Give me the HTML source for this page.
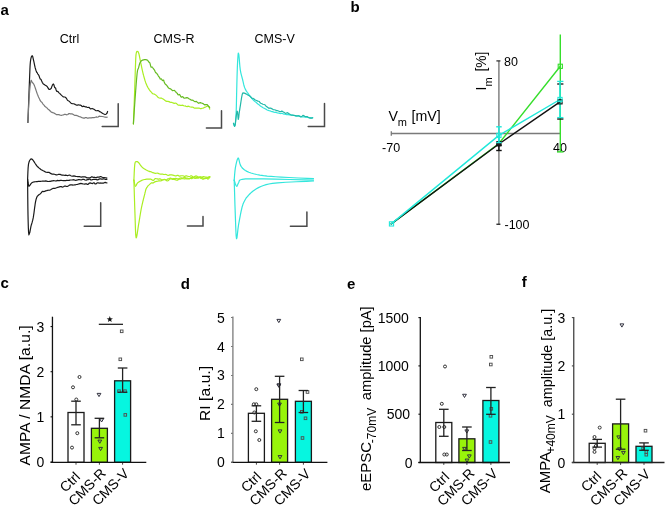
<!DOCTYPE html>
<html><head><meta charset="utf-8"><style>
html,body{margin:0;padding:0;background:#fff;}
svg{display:block;filter:blur(0.3px);}
text{font-family:"Liberation Sans", sans-serif;}
</style></head><body>
<svg width="669" height="507" viewBox="0 0 669 507">
<rect width="669" height="507" fill="#fff"/>
<text x="0.5" y="14.7" font-size="15" text-anchor="start" font-weight="bold" fill="#000">a</text>
<text x="350.5" y="11.8" font-size="15" text-anchor="start" font-weight="bold" fill="#000">b</text>
<text x="0.5" y="288.2" font-size="15" text-anchor="start" font-weight="bold" fill="#000">c</text>
<text x="180.8" y="288.6" font-size="15" text-anchor="start" font-weight="bold" fill="#000">d</text>
<text x="347" y="288.6" font-size="15" text-anchor="start" font-weight="bold" fill="#000">e</text>
<text x="521.8" y="287.2" font-size="15" text-anchor="start" font-weight="bold" fill="#000">f</text>
<text x="69.5" y="43" font-size="12.5" text-anchor="middle" font-weight="normal" fill="#000">Ctrl</text>
<text x="174" y="43" font-size="12.5" text-anchor="middle" font-weight="normal" fill="#000">CMS-R</text>
<text x="274.6" y="43" font-size="12.5" text-anchor="middle" font-weight="normal" fill="#000">CMS-V</text>
<polyline points="27.9,122.5 27.93,121.68 27.96,120.86 27.99,120.04 28.02,119.22 28.05,118.4 28.08,117.58 28.11,116.76 28.14,115.93 28.17,115.11 28.2,114.29 28.24,113.44 28.27,112.59 28.3,111.74 28.33,110.89 28.36,110.04 28.39,109.19 28.42,108.34 28.46,107.49 28.49,106.64 28.52,105.79 28.55,104.94 28.58,104.09 28.61,103.24 28.64,102.39 28.67,101.56 28.71,100.72 28.74,99.89 28.77,99.06 28.8,98.23 28.83,97.4 28.86,96.57 28.89,95.73 28.92,94.9 28.96,94.07 28.99,93.24 29.02,92.41 29.05,91.58 29.08,90.74 29.11,89.91 29.14,89.09 29.18,88.26 29.21,87.43 29.24,86.61 29.27,85.78 29.31,84.96 29.34,84.13 29.37,83.3 29.4,82.48 29.44,81.65 29.47,80.83 29.5,80 29.53,79.18 29.56,78.37 29.6,77.55 29.63,76.73 29.66,75.91 29.69,75.1 29.72,74.28 29.76,73.46 29.79,72.66 29.82,71.85 29.85,71.05 29.88,70.24 29.91,69.44 29.94,68.63 29.99,67.71 30.04,66.78 30.09,65.86 30.14,64.94 30.22,63.89 30.31,62.85 30.4,61.8 30.53,60.92 30.65,60.04 30.78,59.16 31,58.22 31.22,57.29 31.68,56.12 32.45,55.82 32.76,56.78 33.09,58.24 33.29,59.12 33.5,60 33.74,61.09 33.99,62.18 34.17,63.07 34.35,63.96 34.53,64.85 34.73,65.78 34.94,66.71 35.15,67.64 35.4,68.49 35.65,69.35 35.9,70.2 36.21,70.96 36.52,71.73 36.82,72.49 37.18,72.58 37.53,73.61 37.89,74.09 38.45,74.68 39.01,75.73 39.55,77.37 40.1,78.91 40.63,79.16 41.16,79.66 41.7,81.05 42.23,82.23 42.76,83.23 43.29,83.94 44.3,84.57 45.28,85.27 46.24,85.86 47.16,86.47 48,87.88 48.75,89.1 49.42,89.34 50.06,89.36 51.33,88.19 51.63,87.11 51.94,86.26 52.24,85.59 52.55,84.81 53.2,84.01 53.83,84.69 54.44,86.75 54.8,87.66 55.16,87.63 55.63,88.13 56.1,90.01 56.71,91.29 57.32,91.37 58.04,91.64 58.76,92.56 59.53,93.36 60.31,93.97 61.11,94.84 61.9,95.61 62.74,96.39 63.57,96.9 64.46,97.01 65.35,97.28 66.23,98.19 67.1,99.52 67.9,100.59 68.7,101.01 69.37,101.23 70.04,102.18 71.21,103.31 72.37,103.55 73.7,103.76 75.18,104.42 76.73,105.19 77.59,105.11 78.45,104.77 79.42,105.04 80.4,105.08 81.18,105.43 81.95,106.43 82.73,106.55 83.6,106.16 84.47,106.53 85.34,106.91 86.23,106.86 87.12,107.29 88.01,107.48 88.84,107.26 89.67,108.04 90.5,108.95 91.27,108.75 92.03,108.45 92.8,108.77 93.91,109.32 95.02,110.11 96.05,110.74 97.08,110.69 97.99,110.51 98.9,111.04 99.66,111.69 100.42,111.87 101.69,112.8 102.82,113.5 103.9,114.06 105,114.53 106.06,114.21 106.97,113.24 107.6,111.46" fill="none" stroke="#1a1a1a" stroke-width="1.2" stroke-linejoin="round" stroke-linecap="round"/>
<polyline points="27.9,122.5 27.94,121.62 27.98,120.75 28.02,119.87 28.06,118.99 28.11,118.12 28.15,117.24 28.19,116.39 28.23,115.55 28.26,114.7 28.3,113.85 28.34,113.01 28.38,112.16 28.42,111.31 28.46,110.47 28.5,109.62 28.54,108.81 28.58,108.01 28.62,107.2 28.66,106.4 28.7,105.59 28.74,104.79 28.78,103.98 28.82,103.17 28.86,102.37 28.9,101.56 28.95,100.74 29,99.92 29.05,99.1 29.1,98.28 29.15,97.46 29.2,96.64 29.25,95.82 29.3,95 29.37,94.2 29.43,93.4 29.5,92.61 29.56,91.81 29.63,91.01 29.69,90.21 29.79,89.22 29.9,88.23 30,87.24 30.1,86.24 30.24,85.22 30.37,84.2 30.51,83.18 30.7,82.14 30.9,81.1 31.25,80.34 31.91,81.69 32.3,82.5 33.12,83.26 33.63,83.94 34.3,85.3 34.59,86.1 34.88,86.9 35.18,87.7 35.44,88.48 35.69,89.27 35.95,90.06 36.21,90.85 36.49,91.68 36.78,92.5 37.06,93.33 37.34,94.15 37.73,95.1 38.11,96.05 38.5,97 38.88,97.74 39.27,98.47 39.65,99.21 40.25,100.66 40.84,101.46 41.48,101.92 42.11,102.64 42.81,103.79 43.5,104.63 44.03,105.12 44.57,105.99 45.1,106.49 45.69,106.87 46.27,107.46 46.86,107.84 47.45,108.45 48.03,109.16 48.62,109.57 49.41,110.22 50.2,111.03 50.86,111.69 51.52,112.17 52.69,112.63 53.81,112.91 55,113.63 56.26,114.54 57.53,114.67 58.86,114.64 60.3,115.23 61.88,115.3 62.72,115.03 63.56,114.85 64.43,114.36 65.29,114.28 66.15,114.68 67,114.8 67.84,114.48 68.67,113.7 69.51,113.52 70.35,113.81 71.19,113.87 72.03,113.9 72.86,114.23 73.7,114.83 74.54,115.28 75.38,115.32 76.21,115.44 77.05,115.63 77.89,115.95 78.73,116.38 79.56,116.73 80.4,116.9 81.22,117.21 82.04,117.72 82.84,117.93 83.64,118.18 84.47,118.14 85.31,117.54 86.2,117.5 87.1,118.06 88.11,118.1 89.12,117.97 90.21,117.95 91.3,117.79 92.39,117.55 93.48,117.54 94.49,117.55 95.5,117.2 96.42,116.9 97.33,117.23 98.2,117.03 99.06,116.31 99.87,116.22 100.68,116.46 102.2,116.48 103.69,116.73 105.12,117.21 106.34,117.29 107.2,117.08" fill="none" stroke="#787878" stroke-width="1.2" stroke-linejoin="round" stroke-linecap="round"/>
<polyline points="102.2,126.4 118.2,126.4 118.2,103.7" fill="none" stroke="#4a4a4a" stroke-width="1.5" stroke-linejoin="miter" stroke-linecap="round"/>
<polyline points="133.4,123.9 133.43,123.05 133.47,122.2 133.5,121.35 133.53,120.5 133.56,119.65 133.6,118.8 133.63,117.99 133.66,117.18 133.69,116.37 133.72,115.56 133.76,114.75 133.79,113.94 133.82,113.13 133.85,112.32 133.88,111.51 133.91,110.68 133.94,109.85 133.98,109.02 134.01,108.18 134.04,107.35 134.07,106.52 134.1,105.69 134.14,104.86 134.17,104.02 134.2,103.19 134.23,102.37 134.26,101.55 134.29,100.73 134.32,99.91 134.35,99.1 134.38,98.28 134.41,97.46 134.44,96.64 134.47,95.82 134.5,95 134.53,94.15 134.56,93.29 134.59,92.44 134.61,91.59 134.64,90.73 134.67,89.88 134.7,89.02 134.73,88.17 134.76,87.32 134.79,86.46 134.81,85.62 134.84,84.78 134.87,83.94 134.89,83.1 134.92,82.26 134.95,81.42 134.97,80.58 135,79.74 135.03,78.9 135.05,78.06 135.08,77.22 135.11,76.36 135.14,75.5 135.16,74.64 135.19,73.78 135.22,72.92 135.25,72.06 135.28,71.2 135.3,70.34 135.33,69.48 135.36,68.62 135.39,67.8 135.42,66.97 135.45,66.14 135.48,65.31 135.51,64.48 135.54,63.66 135.57,62.83 135.6,62 135.64,61 135.69,60 135.73,59.01 135.77,58.01 135.84,56.92 135.9,55.83 136.03,54.61 136.2,53.5 136.43,52.38 136.99,51.31 137.99,51.53 138.39,52.46 138.8,53.4 139.04,54.37 139.27,55.33 139.44,56.17 139.61,57.01 139.78,57.86 139.96,58.8 140.14,59.74 140.33,60.68 140.52,61.62 140.71,62.56 140.9,63.5 141.1,64.45 141.3,65.4 141.5,66.35 141.71,67.35 141.92,68.35 142.12,69.35 142.35,70.35 142.57,71.35 142.79,72.35 143.03,73.3 143.26,74.25 143.5,75.2 143.75,76.1 143.99,77 144.24,77.9 144.49,78.77 144.75,79.64 145,80.51 145.28,81.34 145.56,82.17 145.84,83 146.16,83.76 146.48,84.53 146.8,85.3 147.34,86.37 147.89,87.44 148.48,88.43 149.08,89.42 149.73,90.32 150.38,91.28 151.09,91.88 151.8,92.73 152.57,93.61 153.34,93.83 154.17,94.02 154.99,94.58 155.87,95.09 156.75,95.89 157.68,96.94 158.6,97.74 159.58,98.05 160.57,98 161.61,98.19 162.65,98.79 163.72,99.37 164.78,100.24 165.84,101.11 166.9,101.41 167.93,101.4 168.95,101.63 169.97,102.13 170.99,102.42 172.03,102.43 173.08,102.92 174.19,103.33 175.3,103.18 176.1,103.25 176.9,103.91 177.71,104.8 178.55,105.15 179.4,105.15 180.24,105.29 181.11,105.44 181.97,105.29 182.84,105.16 183.69,105.74 184.55,106.01 185.4,105.94 186.25,106.53 187.11,106.65 187.96,106.19 188.83,106.35 189.69,106.71 190.56,106.98 191.4,107.1 192.25,106.99 193.09,107.28 193.9,107.84 194.7,108.09 195.5,108 196.67,108.13 197.83,108.11 198.97,108.03 200.11,108.55 201.14,108.57 202.18,108.27 203.04,108.12 203.9,107.69 205.17,107.11 206.09,106.68 206.81,106.21 207.5,105.96 208.16,106.09 208.82,106.23 209.34,107.58 209.7,109.15" fill="none" stroke="#aaee22" stroke-width="1.2" stroke-linejoin="round" stroke-linecap="round"/>
<polyline points="133.4,123.9 133.46,123.05 133.51,122.21 133.57,121.36 133.62,120.51 133.68,119.67 133.73,118.8 133.79,117.93 133.84,117.07 133.9,116.2 133.96,115.34 134.01,114.47 134.07,113.61 134.13,112.75 134.18,111.88 134.24,111.02 134.3,110.16 134.36,109.3 134.41,108.44 134.47,107.58 134.53,106.72 134.59,105.88 134.65,105.04 134.7,104.2 134.76,103.36 134.82,102.52 134.88,101.68 134.94,100.84 135,100 135.06,99.13 135.13,98.27 135.19,97.4 135.25,96.53 135.32,95.67 135.38,94.8 135.44,93.93 135.51,93.07 135.57,92.24 135.63,91.41 135.69,90.58 135.75,89.75 135.82,88.92 135.88,88.09 135.94,87.26 136,86.43 136.06,85.6 136.13,84.74 136.2,83.88 136.27,83.02 136.34,82.15 136.41,81.29 136.48,80.43 136.54,79.57 136.61,78.71 136.69,77.84 136.78,76.97 136.86,76.1 136.94,75.24 137.02,74.37 137.1,73.5 137.23,72.55 137.36,71.6 137.49,70.65 137.83,69.43 138.5,68 138.86,66.58 139.23,65.11 139.63,63.74 140.1,62.6 140.62,61.71 141.19,61.01 141.83,60.48 142.6,60.1 143.53,59.81 144.59,59.63 145.71,59.69 146.8,59.89 147.85,60.44 148.38,61.43 148.9,62.12 149.43,62.37 149.95,63.14 150.48,65.34 151,67.18 151.5,67.05 151.99,66.97 152.47,67.55 152.94,68.02 153.46,68.74 153.97,69.33 154.59,70.3 155.2,71.82 155.7,72.67 156.2,72.88 156.7,73.33 157.26,74.09 157.83,74.89 158.39,76.04 158.98,76.75 159.58,77.6 160.17,78.9 160.74,79.06 161.32,78.75 161.9,79.72 162.46,80.61 163.02,79.99 163.58,80 164.13,81.72 164.69,83.27 165.25,84.06 166.09,84.81 166.93,85.58 167.76,86.81 168.6,88.08 169.42,88.58 170.24,88.69 171.04,89.22 171.84,90.12 172.67,90.67 173.51,90.49 174.4,90.29 175.3,91.42 176.29,92.51 177.28,93.39 177.98,94.59 178.69,94.83 179.39,94.47 180.12,95.26 180.84,96.8 181.56,97.23 182.27,96.68 182.99,96.77 183.7,97.82 184.75,98.21 185.8,97.94 186.85,97.67 187.9,97.89 188.95,98.72 190,99.36 191.05,100.05 192.1,100.18 193.17,100.39 194.24,101.37 195.32,101.59 196.41,101.42 197.46,102.33 198.52,103.27 199.51,102.91 200.5,102.62 201.45,103.05 202.39,103.36 203.31,103.83 204.22,104.59 205.04,104.9 205.86,104.5 207.2,104.63 208.18,105.9 208.87,106.77 209.7,107.42" fill="none" stroke="#66bb22" stroke-width="1.2" stroke-linejoin="round" stroke-linecap="round"/>
<polyline points="206.4,128 221.5,128 221.5,110.8" fill="none" stroke="#4a4a4a" stroke-width="1.5" stroke-linejoin="miter" stroke-linecap="round"/>
<polyline points="233.5,123.3 233.76,124.08 234.14,125.26 234.55,126.19 235.17,124.97 235.29,123.94 235.41,122.91 235.48,122.08 235.55,121.26 235.61,120.44 235.68,119.62 235.74,118.81 235.8,118 235.88,116.85 235.96,115.7 236,114.9 236.04,114.1 236.09,113.3 236.12,112.45 236.16,111.6 236.2,110.75 236.23,109.84 236.27,108.92 236.3,108 236.33,107.04 236.36,106.08 236.38,105.12 236.41,104.12 236.43,103.12 236.45,102.12 236.47,101.3 236.48,100.47 236.5,99.64 236.52,98.81 236.54,97.86 236.56,96.91 236.58,95.95 236.6,95 236.62,94.07 236.64,93.13 236.67,92.2 236.69,91.26 236.71,90.33 236.73,89.44 236.75,88.55 236.77,87.66 236.8,86.78 236.82,85.89 236.84,85 236.86,84.11 236.88,83.22 236.9,82.34 236.93,81.45 236.95,80.56 236.97,79.67 237,78.74 237.02,77.8 237.05,76.87 237.07,75.93 237.1,75 237.13,74.04 237.16,73.08 237.19,72.12 237.22,71.16 237.25,70.33 237.28,69.49 237.31,68.65 237.34,67.81 237.38,66.81 237.42,65.81 237.46,64.8 237.51,63.87 237.55,62.93 237.6,62 237.65,61.06 237.71,60.12 237.76,59.19 237.82,58.29 237.88,57.4 237.94,56.5 238.03,55.41 238.12,54.31 238.3,53 238.78,54.2 238.89,55.1 239,56 239.09,56.94 239.17,57.88 239.26,58.82 239.33,59.76 239.4,60.69 239.47,61.63 239.54,62.56 239.63,63.55 239.71,64.54 239.8,65.53 239.88,66.52 239.99,67.39 240.09,68.26 240.2,69.13 240.3,70 240.48,70.94 240.65,71.89 240.83,72.83 241.04,73.68 241.25,74.54 241.46,75.39 241.67,76.17 241.89,76.96 242.1,77.75 242.4,78.87 242.7,80 242.95,81.07 243.19,82.15 243.41,83.15 243.63,84.16 243.87,85.1 244.1,86.04 244.4,86.92 244.7,87.8 245.06,88.6 245.43,89.4 245.84,90.12 246.25,90.84 246.71,91.54 247.17,92.24 247.69,92.97 248.2,93.7 248.74,94.46 249.28,95.22 249.86,95.98 250.43,96.65 251.1,97.47 251.76,98.43 252.58,99.22 253.4,100.05 254.09,100.82 254.78,101.42 255.47,101.85 256.27,102.54 257.07,103.34 257.88,104 258.71,104.51 259.55,105.18 260.39,106.03 261.2,106.53 262,106.97 262.8,107.52 263.54,107.93 264.27,108.29 265.01,108.65 266.08,109.32 267.16,109.97 268.24,110.34 269.32,110.71 270.08,110.92 270.84,111.23 271.6,111.54 272.39,111.61 273.17,111.87 273.96,112.24 274.76,112.28 275.56,112.22 276.36,112.53 277.21,112.94 278.06,113.02 278.91,113.21 279.84,113.52 280.77,113.53 281.7,113.37 282.5,113.49 283.3,113.85 284.1,114.06 284.9,114.26 285.77,114.49 286.65,114.54 287.52,114.41 288.4,114.58 289.28,114.96 290.15,115 291.03,114.84 291.9,114.99 292.7,115.3 293.5,115.34 294.3,115.47 295.1,115.84 296.04,116.07 296.98,116.07 297.92,115.8 298.78,115.66 299.65,116 300.52,116.34 301.32,116.56 302.13,116.84 302.94,116.86 304.07,116.87 305.2,117.1 306.32,117.22 307.43,117.37 308.51,117.51 309.58,117.54 310.5,117.86 311.41,117.94 312.7,117.6" fill="none" stroke="#33e6dc" stroke-width="1.2" stroke-linejoin="round" stroke-linecap="round"/>
<polyline points="233.5,123.3 233.76,124.13 234.13,125.38 234.54,126.36 235.19,125.09 235.32,123.98 235.46,122.86 235.54,122.01 235.63,121.16 235.72,120.31 235.86,119.15 236,118 236.16,116.84 236.32,115.68 236.43,114.84 236.54,114 236.66,113.16 236.82,112.18 236.99,111.19 237.57,111.95 237.66,112.95 237.74,113.94 237.82,114.94 237.9,115.94 237.98,116.95 238.06,117.95 238.3,119.5 238.52,118.4 238.74,117.29 238.85,116.18 238.96,115.07 239.08,114.04 239.2,113 239.33,112.11 239.47,111.22 239.61,110.3 239.75,109.39 239.9,108.41 240.06,107.44 240.23,106.37 240.4,105.3 240.53,104.44 240.66,103.58 240.8,102.72 240.94,101.74 241.09,100.77 241.24,99.8 241.39,98.89 241.54,97.97 241.68,97.06 241.89,96.03 242.1,95 242.4,93.8 242.95,92.94 244.38,93.1 245.49,93.62 246.68,94.28 247.8,94.9 248.8,95.43 249.78,95.98 250.76,97.05 251.8,98.07 252.91,98.33 254.06,98.95 255.25,99.96 256.5,100.45 257.87,101.08 258.61,101.24 259.34,101.58 260.06,102.72 260.77,103.27 262,103.75 262.85,104.25 264.11,104.49 265.2,105 266.04,106.15 266.87,106.72 267.9,107.56 268.92,108.38 269.66,108.01 270.4,108.18 271.14,108.38 272.22,108.86 273.3,109.77 274.36,109.75 275.42,110.04 276.5,110.61 277.59,110.71 278.65,111.01 279.71,111.71 280.71,111.67 281.7,111.1 282.56,111.41 283.41,112.02 284.18,112.36 284.94,112.99 285.73,113.38 286.53,113.01 287.46,112.69 288.4,113.27 289.49,114.11 290.59,114.8 291.39,115.25 292.18,115.1 292.98,115.16 293.86,115.46 294.73,115.46 295.61,115.7 296.57,115.94 297.54,115.87 298.5,115.84 299.4,116.27 300.3,116.85 301.2,116.87 302.09,116.14 302.92,115.38 303.75,115.61 304.58,116.21 305.4,116.58 306.23,116.63 307.19,116.59 308.14,117.15 309.1,117.94 310.05,118.08 310.93,117.95 311.82,118.06 312.7,117.85" fill="none" stroke="#22b8a8" stroke-width="1.2" stroke-linejoin="round" stroke-linecap="round"/>
<polyline points="308.2,126.4 324.5,126.4 324.5,103.4" fill="none" stroke="#4a4a4a" stroke-width="1.5" stroke-linejoin="miter" stroke-linecap="round"/>
<polyline points="27.6,179.3 27.64,178.32 27.68,177.34 27.72,176.36 27.76,175.5 27.79,174.65 27.83,173.79 27.86,172.94 27.89,172.08 27.94,171.19 27.99,170.3 28.04,169.42 28.09,168.53 28.14,167.64 28.23,166.78 28.32,165.92 28.41,165.06 28.5,164.2 28.76,163.11 29.02,162.02 29.34,161.26 29.66,160.5 30.35,159.5 31,158.9 32.03,159.03 32.58,159.69 33.3,160.6 34.19,161.87 34.69,162.69 35.2,163.51 35.78,164.37 36.36,165.24 37.03,166.02 37.7,166.8 38.45,167.47 39.2,168.14 40.03,168.77 40.86,169.41 41.78,169.99 42.71,170.57 43.75,171.08 44.8,171.6 45.58,172.05 46.36,172.22 47.14,172.38 48,172.27 48.86,172.32 49.71,172.87 50.64,173.37 51.57,173.86 52.5,174.17 53.5,174.09 54.5,174.26 55.5,174.72 56.3,174.82 57.1,174.78 57.9,174.56 58.7,174.25 59.55,174.29 60.4,174.46 61.25,174.91 62.11,175.14 63.01,175.01 63.92,175.23 64.83,175.28 65.74,175.2 66.7,175.41 67.67,175.59 68.63,175.25 69.6,175.07 70.46,175.57 71.32,175.98 72.19,176.21 73.05,176.15 73.91,175.93 74.85,176.17 75.78,176.42 76.72,176.49 77.66,176.65 78.59,176.72 79.52,176.66 80.45,176.91 81.37,177.09 82.3,176.91 83.23,176.87 84.06,176.8 84.9,176.81 85.73,177.13 86.57,177.64 87.4,177.92 88.31,177.8 89.22,177.84 90.14,177.84 91.05,177.23 91.88,176.71 92.72,177.13 93.55,177.39 94.38,177.21 95.38,177.52 96.38,177.64 97.37,177.13 98.25,177.1 99.12,177.17 100,176.68 101.14,176.67 102.29,177.21 103.26,177.59 104.24,177.66 105.79,177.74 106.9,178.07" fill="none" stroke="#1a1a1a" stroke-width="1.2" stroke-linejoin="round" stroke-linecap="round"/>
<polyline points="27.6,179.3 27.81,180.78 27.97,181.87 28.12,182.96 28.3,184.01 28.49,185.06 28.9,186.3 29.83,185.55 30.38,184.52 31,183.7 31.96,182.69 32.73,182.27 34.2,181.9 35.26,181.76 36.32,181.61 37.19,181.54 38.07,181.47 38.94,181.39 39.77,181.35 40.61,181.3 41.45,181.25 42.29,181.2 43.15,181.16 44.01,181.12 44.87,181.08 45.74,180.93 46.6,181.07 47.51,181.4 48.43,181.51 49.34,181.43 50.26,181.39 51.17,181.12 52.09,180.89 52.9,180.87 53.71,180.71 54.52,180.74 55.33,180.96 56.14,181.01 56.95,180.63 57.76,180.41 58.57,180.7 59.46,180.68 60.36,180.34 61.25,180.3 62.14,180.51 63.04,180.63 63.93,180.56 64.82,180.58 65.72,180.64 66.55,180.46 67.38,180.36 68.21,180.47 69.04,180.42 69.87,180.12 70.71,179.99 71.54,179.98 72.37,179.86 73.2,179.72 74.07,179.8 74.94,180.27 75.81,180.36 76.69,180.05 77.56,179.92 78.43,179.68 79.3,179.57 80.17,179.76 81.04,179.94 81.92,179.77 82.73,179.29 83.55,179.3 84.36,179.65 85.18,180 86,180.23 86.81,179.87 87.63,179.69 88.45,179.61 89.26,178.98 90.08,179.24 90.9,180.01 91.71,179.83 92.53,179.54 93.34,179.46 94.16,179.33 94.97,179.27 95.79,179.33 96.6,179.7 97.42,179.89 98.23,179.64 99.05,179.11 99.86,178.83 100.68,178.96 101.57,179.14 102.46,179.17 103.34,178.93 104.23,178.96 105.12,179.31 106.01,179.45 106.9,179.38" fill="none" stroke="#1a1a1a" stroke-width="1.2" stroke-linejoin="round" stroke-linecap="round"/>
<polyline points="27.6,179.3 27.61,180.15 27.62,181 27.62,181.85 27.63,182.69 27.64,183.54 27.65,184.39 27.65,185.24 27.66,186.09 27.67,186.91 27.67,187.73 27.68,188.54 27.69,189.36 27.69,190.18 27.7,191 27.71,191.82 27.72,192.64 27.72,193.46 27.73,194.28 27.74,195.09 27.74,195.91 27.75,196.72 27.76,197.52 27.77,198.32 27.78,199.13 27.79,199.93 27.8,200.73 27.8,201.54 27.81,202.34 27.82,203.14 27.83,203.95 27.84,204.75 27.85,205.55 27.86,206.36 27.87,207.22 27.88,208.09 27.9,208.95 27.91,209.81 27.93,210.68 27.94,211.54 27.96,212.41 27.97,213.27 27.99,214.14 28,215 28.02,215.84 28.04,216.68 28.06,217.53 28.08,218.37 28.1,219.21 28.12,220.05 28.14,220.89 28.16,221.73 28.19,222.58 28.21,223.43 28.24,224.28 28.27,225.13 28.29,225.97 28.32,226.82 28.34,227.67 28.39,228.58 28.44,229.49 28.48,230.4 28.53,231.31 28.58,232.22 28.69,233.08 28.79,233.94 28.9,234.8 29.22,233.96 29.54,233.13 29.86,232.29 30.01,231.47 30.15,230.66 30.29,229.84 30.43,229.03 30.62,228.09 30.81,227.14 31,226.2 31.28,225.21 31.55,224.22 31.83,223.3 32.11,222.38 32.4,221.31 32.69,220.24 32.89,219.29 33.1,218.35 33.3,217.4 33.43,216.58 33.55,215.76 33.68,214.93 33.8,214.11 33.93,213.29 34.04,212.46 34.14,211.62 34.25,210.79 34.36,209.95 34.47,209.12 34.57,208.28 34.69,207.46 34.8,206.65 34.92,205.83 35.03,205.02 35.15,204.2 35.26,203.38 35.44,202.44 35.63,201.49 35.81,200.55 36,199.6 36.37,198.48 36.73,197.35 37.47,196.06 38.35,195.21 39.5,194.3 40.24,193.91 40.98,193.19 41.85,191.97 42.71,191.26 43.66,191.64 44.61,191.43 45.61,190.9 46.6,190.69 47.59,190.35 48.58,190.22 49.59,190.24 50.61,189.75 51.74,189.02 52.87,188.45 53.74,188.42 54.62,188.45 55.5,188.21 56.52,187.81 57.55,187.44 58.57,187.2 59.43,186.87 60.28,186.6 61.14,186.59 61.99,186.86 62.92,187.05 63.84,186.56 64.77,186.01 65.69,186.17 66.67,186.47 67.65,186.33 68.62,185.75 69.6,185.08 70.43,184.87 71.26,184.86 72.09,184.94 72.92,185.09 73.75,184.98 74.63,184.87 75.51,184.81 76.4,184.49 77.28,184.39 78.16,184.26 79.08,183.82 79.99,183.56 80.91,183.43 81.83,183.54 82.74,183.84 83.67,184.01 84.61,184.1 85.54,183.83 86.47,183.76 87.4,184.4 88.27,184.23 89.14,183.24 90.01,182.94 90.88,183.16 91.74,183.45 92.61,183.54 93.42,182.88 94.23,182.77 95.03,183.84 95.84,184.02 96.65,183.31 97.46,182.84 98.26,182.95 99.11,183.09 99.96,182.97 100.81,183.05 101.66,183.17 102.51,183.19 103.36,183.11 104.24,182.74 105.13,182.37 106.01,182.67 106.9,182.8" fill="none" stroke="#1a1a1a" stroke-width="1.2" stroke-linejoin="round" stroke-linecap="round"/>
<polyline points="84.2,226.2 100.7,226.2 100.7,202.8" fill="none" stroke="#4a4a4a" stroke-width="1.5" stroke-linejoin="miter" stroke-linecap="round"/>
<polyline points="133.9,180.1 133.95,179.04 134,177.99 134.04,176.93 134.08,176.01 134.12,175.09 134.16,174.16 134.2,173.24 134.24,172.32 134.29,171.38 134.35,170.44 134.4,169.5 134.45,168.56 134.5,167.62 134.57,166.76 134.65,165.91 134.72,165.05 134.8,164.2 134.98,163.35 135.15,162.5 135.56,161.77 136.5,161.5 137.51,161.68 138.16,162.24 138.8,162.8 139.59,163.8 140.45,165.09 140.96,165.77 141.46,166.46 142.08,167.08 142.7,167.7 143.43,168.24 144.17,168.78 145,169.3 145.83,169.81 146.76,170.29 147.7,170.76 148.75,171.18 149.8,171.6 150.93,171.64 152.06,172.37 152.87,172.58 153.68,172.82 154.49,173.2 155.41,173.36 156.33,173.23 157.25,173.06 158.06,173.22 158.87,173.65 159.69,173.99 160.5,174.14 161.49,174.08 162.48,174.01 163.47,174.3 164.45,174.53 165.36,174.34 166.26,174.47 167.16,175.03 168.07,175.32 168.97,175.17 169.91,174.91 170.85,174.82 171.79,174.91 172.73,175.05 173.67,175.35 174.58,175.64 175.48,175.82 176.39,175.79 177.29,175.39 178.2,175.44 179.06,176.06 179.92,176.11 180.79,175.79 181.65,175.73 182.51,175.76 183.36,175.95 184.22,176.28 185.07,176.29 185.93,175.92 186.78,175.89 187.62,176.22 188.45,176.47 189.29,176.51 190.13,176.21 190.96,175.82 191.77,175.87 192.58,176.6 193.38,177.03 194.19,176.79 195,176.34 195.84,175.95 196.68,176.03 197.51,176.63 198.35,177.21 199.19,177.11 200.04,176.78 200.89,176.89 201.75,177.06 202.6,176.91 203.45,176.64 204.38,176.78 205.32,177.17 206.25,177.16 207.19,177.23 208.06,177.54 208.93,177.29 209.8,176.89" fill="none" stroke="#aaee22" stroke-width="1.2" stroke-linejoin="round" stroke-linecap="round"/>
<polyline points="133.9,180.1 134.16,181.43 134.35,182.4 134.54,183.38 134.75,184.31 134.97,185.24 135.4,186.3 136.25,185.35 136.71,184.26 137.2,183.4 138.08,182.46 138.79,182.03 139.5,181.6 140.57,181.02 141.82,180.36 142.64,180.06 143.45,179.75 144.58,179.53 145.7,179.3 146.71,179.22 147.73,179.15 148.74,179.07 149.66,179.05 150.58,179.09 151.5,179.57 152.42,180.15 153.22,180.51 154.03,179.9 154.83,178.75 155.63,178.5 156.44,178.74 157.25,178.82 158.06,179.07 158.87,179.13 159.69,178.75 160.5,179.05 161.44,179.83 162.38,180.02 163.32,179.71 164.26,179.27 165.19,179.54 166.11,179.95 167.04,179.43 167.96,178.76 168.81,178.58 169.66,178.22 170.51,178.01 171.36,178.46 172.21,178.72 173.11,178.53 174.01,178.55 174.9,178.58 175.8,178.4 176.7,178.62 177.6,178.93 178.46,178.91 179.32,178.52 180.18,177.99 181.04,177.91 181.9,178.2 182.76,178.11 183.62,177.71 184.48,177.6 185.34,177.71 186.2,178 187.06,178.07 187.91,178.22 188.77,178.81 189.63,178.73 190.48,178.01 191.34,177.49 192.2,177.21 193.05,177.37 193.91,177.77 194.77,178.03 195.58,178.01 196.39,177.68 197.19,177.37 198,177.26 198.81,177.31 199.62,177.26 200.43,177.2 201.24,177.76 202.04,178.73 202.85,179.26 203.66,179.06 204.54,178.64 205.41,178.53 206.29,178.39 207.17,177.96 208.05,177.33 208.92,176.77 209.8,176.84" fill="none" stroke="#aaee22" stroke-width="1.2" stroke-linejoin="round" stroke-linecap="round"/>
<polyline points="133.9,180.1 133.92,180.92 133.95,181.74 133.97,182.56 134,183.38 134.02,184.2 134.05,185.02 134.07,185.84 134.1,186.65 134.12,187.52 134.15,188.38 134.18,189.24 134.2,190.1 134.23,190.96 134.25,191.82 134.28,192.68 134.3,193.54 134.33,194.4 134.36,195.26 134.38,196.12 134.41,196.97 134.43,197.82 134.46,198.67 134.49,199.52 134.51,200.37 134.54,201.22 134.57,202.06 134.59,202.91 134.62,203.76 134.65,204.61 134.67,205.46 134.7,206.31 134.73,207.18 134.76,208.05 134.79,208.92 134.82,209.78 134.85,210.65 134.88,211.52 134.91,212.39 134.94,213.26 134.97,214.13 135,215 135.03,215.82 135.05,216.64 135.08,217.47 135.11,218.29 135.13,219.11 135.16,219.93 135.19,220.75 135.22,221.58 135.24,222.4 135.27,223.27 135.3,224.15 135.32,225.03 135.35,225.9 135.38,226.78 135.41,227.66 135.43,228.54 135.46,229.41 135.51,230.33 135.55,231.25 135.59,232.17 135.64,233.09 135.68,234 135.73,234.92 135.85,235.88 135.98,236.84 136.1,237.8 136.62,237.08 136.78,236.2 136.94,235.33 137.09,234.45 137.25,233.58 137.39,232.63 137.52,231.69 137.66,230.75 137.79,229.8 137.93,228.86 138.06,227.99 138.2,227.12 138.33,226.24 138.47,225.37 138.6,224.5 138.77,223.52 138.93,222.54 139.1,221.56 139.26,220.58 139.4,219.75 139.53,218.91 139.67,218.07 139.8,217.23 139.94,216.39 140.07,215.56 140.21,214.73 140.35,213.9 140.48,213.08 140.62,212.25 140.79,211.31 140.96,210.37 141.13,209.44 141.3,208.5 141.47,207.69 141.64,206.87 141.81,206.06 141.98,205.25 142.2,204.27 142.43,203.29 142.66,202.31 142.88,201.4 143.11,200.49 143.33,199.59 143.55,198.72 143.78,197.86 144,197 144.21,196.16 144.42,195.32 144.63,194.49 144.84,193.69 145.04,192.69 145.24,192.01 145.56,190.67 145.88,189.46 146.24,188.56 146.6,187.89 146.98,187.44 147.37,186.74 148.17,185.65 149.09,184.89 150.2,183.88 151.55,182.75 152.31,182.88 153.08,183.07 153.9,182.41 154.73,181.88 155.56,181.62 156.4,181.42 157.66,181.26 158.68,180.89 159.51,180.72 160.34,180.97 161.39,180.69 162.45,179.8 163.5,179.56 164.4,179.54 165.31,179.48 166.21,180.3 167.11,180.96 168.01,180.74 168.92,179.96 169.8,179.01 170.68,178.74 171.56,179.06 172.44,179.48 173.32,179.48 174.2,179.35 175.08,179.6 175.96,179.96 176.78,180.26 177.61,180.2 178.43,179.42 179.26,178.84 180.09,179.2 180.91,178.94 181.74,178.36 182.57,178.58 183.39,178.74 184.22,178.89 185.04,178.84 185.87,178.48 186.7,178.89 187.52,179 188.35,178.65 189.17,178.74 190,178.36 190.84,178.23 191.68,178.66 192.52,178.22 193.36,177.51 194.2,177.86 195.04,178.35 195.89,178.11 196.7,177.97 197.51,178.15 198.32,178.09 199.13,177.75 199.94,177.77 200.75,178.4 201.56,178.22 202.36,177.45 203.17,177.98 203.98,178.41 204.78,178.23 205.59,178.18 206.4,177.94 207.25,178.45 208.1,179.17 208.95,178.42 209.8,176.71" fill="none" stroke="#aaee22" stroke-width="1.2" stroke-linejoin="round" stroke-linecap="round"/>
<polyline points="187.4,225.9 203,225.9 203,216.5" fill="none" stroke="#4a4a4a" stroke-width="1.5" stroke-linejoin="miter" stroke-linecap="round"/>
<polyline points="234.2,180.1 234.38,177.81 234.63,174.51 234.97,170.9 235.4,167.7 235.98,164.69 236.68,161.63 237.42,159.18 238.1,158 238.67,158.66 239.19,160.67 239.74,163.12 240.4,165.1 241.13,166.41 241.91,167.52 242.83,168.53 244,169.5 245.38,170.46 246.94,171.36 248.78,172.2 251,173 253.62,173.76 256.58,174.48 259.88,175.14 263.5,175.7 267.22,176.14 271.11,176.47 275.63,176.77 281.2,177.1 289.01,177.52 298.46,177.99 307.35,178.41 313.5,178.7" fill="none" stroke="#33e6dc" stroke-width="1.2" stroke-linejoin="round" stroke-linecap="round"/>
<polyline points="234.2,180.1 234.62,181.44 235.22,183.42 235.89,185.29 236.5,186.3 237,186.11 237.47,185.16 237.97,183.9 238.6,182.8 238.98,181.85 239.2,180.86 240.02,179.96 242.2,179.3 245.61,178.94 249.95,178.81 255.74,178.81 263.5,178.9 275.15,179.12 289.83,179.48 303.84,179.85 313.5,180.1" fill="none" stroke="#33e6dc" stroke-width="1.2" stroke-linejoin="round" stroke-linecap="round"/>
<polyline points="234.2,180.1 234.4,186.63 234.68,196.07 234.99,206.24 235.3,215 235.57,222.6 235.84,229.92 236.13,235.7 236.5,238.7 236.93,237.9 237.4,234.19 237.95,229.19 238.6,224.5 239.41,220.05 240.34,215.16 241.3,210.49 242.2,206.7 243.03,204.06 243.84,202.17 244.6,200.76 245.3,199.5 245.91,198.45 246.44,197.72 246.95,197.13 247.5,196.5 248.05,195.83 248.6,195.21 249.22,194.55 250,193.8 250.9,192.92 251.9,191.96 253.1,190.94 254.6,189.9 256.4,188.8 258.46,187.62 260.81,186.49 263.5,185.5 266.15,184.68 268.86,183.99 272.42,183.37 277.6,182.8 285.88,182.24 296.43,181.73 306.54,181.3 313.5,181" fill="none" stroke="#33e6dc" stroke-width="1.2" stroke-linejoin="round" stroke-linecap="round"/>
<polyline points="290.4,226.2 306.9,226.2 306.9,212.1" fill="none" stroke="#4a4a4a" stroke-width="1.5" stroke-linejoin="miter" stroke-linecap="round"/>
<line x1="391.3" y1="133.5" x2="560.39" y2="133.5" stroke="#7a7a7a" stroke-width="1.4" stroke-linecap="butt"/>
<line x1="391.3" y1="131.3" x2="391.3" y2="135.7" stroke="#7a7a7a" stroke-width="1.3" stroke-linecap="butt"/>
<line x1="498.9" y1="60.9" x2="498.9" y2="224.25" stroke="#7a7a7a" stroke-width="1.4" stroke-linecap="butt"/>
<line x1="496.4" y1="60.9" x2="500.4" y2="60.9" stroke="#333" stroke-width="1.3" stroke-linecap="butt"/>
<line x1="496.4" y1="224.25" x2="500.4" y2="224.25" stroke="#222" stroke-width="1.3" stroke-linecap="butt"/>
<text x="391.1" y="152" font-size="12.5" text-anchor="middle" font-weight="normal" fill="#000">-70</text>
<text x="560" y="151.6" font-size="12.5" text-anchor="middle" font-weight="normal" fill="#000">40</text>
<text x="504" y="66.2" font-size="12.5" text-anchor="start" font-weight="normal" fill="#000">80</text>
<text x="504.5" y="229.3" font-size="12.5" text-anchor="start" font-weight="normal" fill="#000">-100</text>
<text x="388.4" y="120.6" font-size="14.2" text-anchor="start" font-weight="normal" fill="#000">V</text>
<text x="397.8" y="126.3" font-size="11" text-anchor="start" font-weight="normal" fill="#000">m</text>
<text x="411.6" y="120.6" font-size="14.2" text-anchor="start" font-weight="normal" fill="#000">[mV]</text>
<text transform="translate(485.7,90.6) rotate(-90)" font-size="13.8">I</text>
<text transform="translate(491.8,86.6) rotate(-90)" font-size="11">m</text>
<text transform="translate(485.9,71.6) rotate(-90)" font-size="13.8">[%]</text>
<line x1="560.3" y1="34.4" x2="560.3" y2="151.9" stroke="#36de2c" stroke-width="1.4" stroke-linecap="butt"/>
<line x1="557" y1="151.9" x2="563.6" y2="151.9" stroke="#36de2c" stroke-width="1.4" stroke-linecap="butt"/>
<line x1="557.2" y1="84" x2="563.4" y2="84" stroke="#111" stroke-width="1.3" stroke-linecap="butt"/>
<line x1="557.2" y1="119" x2="563.4" y2="119" stroke="#111" stroke-width="1.4" stroke-linecap="butt"/>
<line x1="560" y1="81.4" x2="560" y2="117.6" stroke="#20e8da" stroke-width="1.6" stroke-linecap="butt"/>
<line x1="557.2" y1="81.4" x2="563.4" y2="81.4" stroke="#20e8da" stroke-width="1.3" stroke-linecap="butt"/>
<line x1="557.2" y1="117.6" x2="563.4" y2="117.6" stroke="#20e8da" stroke-width="1.3" stroke-linecap="butt"/>
<line x1="498.9" y1="126.8" x2="498.9" y2="143.5" stroke="#20e8da" stroke-width="1.6" stroke-linecap="butt"/>
<line x1="496.2" y1="126.8" x2="501.7" y2="126.8" stroke="#20e8da" stroke-width="1.4" stroke-linecap="butt"/>
<line x1="498.9" y1="143.5" x2="498.9" y2="150.5" stroke="#111" stroke-width="1.4" stroke-linecap="butt"/>
<line x1="496.2" y1="145.2" x2="501.7" y2="145.2" stroke="#111" stroke-width="1.4" stroke-linecap="butt"/>
<line x1="496.2" y1="150.5" x2="501.7" y2="150.5" stroke="#111" stroke-width="1.4" stroke-linecap="butt"/>
<polyline points="391.25,223.9 498.9,143.5 560.3,66.3" fill="none" stroke="#36de2c" stroke-width="1.4" stroke-linejoin="round" stroke-linecap="round"/>
<polyline points="391.25,223.9 498.9,144 560,101.8" fill="none" stroke="#111" stroke-width="1.4" stroke-linejoin="round" stroke-linecap="round"/>
<polyline points="391.25,223.9 498.9,135.4 560,99.5" fill="none" stroke="#20e8da" stroke-width="1.4" stroke-linejoin="round" stroke-linecap="round"/>
<rect x="558.2" y="64.2" width="4.2" height="4.2" fill="none" stroke="#36de2c" stroke-width="1.1"/>
<rect x="496.8" y="141.7" width="4.2" height="4.2" fill="#222" stroke="#111" stroke-width="1.1"/>
<rect x="557.9" y="99.7" width="4.2" height="4.2" fill="none" stroke="#111" stroke-width="1.1"/>
<line x1="498.9" y1="135" x2="498.9" y2="142.6" stroke="#20e8da" stroke-width="1.6" stroke-linecap="butt"/>
<line x1="496.2" y1="142.6" x2="501.7" y2="142.6" stroke="#20e8da" stroke-width="1.3" stroke-linecap="butt"/>
<rect x="496.8" y="133.3" width="4.2" height="4.2" fill="none" stroke="#20e8da" stroke-width="1.1"/>
<rect x="557.9" y="97.4" width="4.2" height="4.2" fill="none" stroke="#20e8da" stroke-width="1.1"/>
<rect x="389.4" y="221.8" width="4.2" height="4.2" fill="none" stroke="#20e8da" stroke-width="1.1"/>
<rect x="68" y="412.5" width="16" height="49.8" fill="#ffffff" stroke="#1a1a1a" stroke-width="1.3"/>
<rect x="91.4" y="428.3" width="16" height="34" fill="#98f40a" stroke="#1a1a1a" stroke-width="1.3"/>
<rect x="114.6" y="380.8" width="16" height="81.5" fill="#06f6e0" stroke="#1a1a1a" stroke-width="1.3"/>
<circle cx="79.5" cy="377" r="1.5" fill="none" stroke="#333" stroke-width="1.0"/>
<circle cx="73" cy="387.3" r="1.5" fill="none" stroke="#333" stroke-width="1.0"/>
<circle cx="76.3" cy="399.5" r="1.5" fill="none" stroke="#333" stroke-width="1.0"/>
<circle cx="77.3" cy="433.2" r="1.5" fill="none" stroke="#333" stroke-width="1.0"/>
<circle cx="72" cy="447.6" r="1.5" fill="none" stroke="#333" stroke-width="1.0"/>
<path d="M97.1,393.38 L100.9,393.38 L99,396.61 Z" fill="none" stroke="#333340" stroke-width="1.0" stroke-linejoin="round"/>
<path d="M99.7,418.77 L103.5,418.77 L101.6,422 Z" fill="none" stroke="#333340" stroke-width="1.0" stroke-linejoin="round"/>
<path d="M97.9,440.07 L101.7,440.07 L99.8,443.31 Z" fill="none" stroke="#333340" stroke-width="1.0" stroke-linejoin="round"/>
<path d="M98.7,447.38 L102.5,447.38 L100.6,450.61 Z" fill="none" stroke="#333340" stroke-width="1.0" stroke-linejoin="round"/>
<rect x="120.4" y="330" width="2.6" height="2.6" fill="none" stroke="#505050" stroke-width="0.95"/>
<rect x="119" y="358" width="2.6" height="2.6" fill="none" stroke="#505050" stroke-width="0.95"/>
<rect x="117.7" y="389.9" width="2.6" height="2.6" fill="none" stroke="#505050" stroke-width="0.95"/>
<rect x="123.7" y="389.9" width="2.6" height="2.6" fill="none" stroke="#505050" stroke-width="0.95"/>
<rect x="124" y="413.6" width="2.6" height="2.6" fill="none" stroke="#505050" stroke-width="0.95"/>
<line x1="76" y1="401.2" x2="76" y2="424.8" stroke="#222" stroke-width="1.3" stroke-linecap="butt"/>
<line x1="71.2" y1="401.2" x2="80.8" y2="401.2" stroke="#222" stroke-width="1.3" stroke-linecap="butt"/>
<line x1="71.2" y1="424.8" x2="80.8" y2="424.8" stroke="#222" stroke-width="1.3" stroke-linecap="butt"/>
<line x1="76" y1="462.3" x2="76" y2="464.7" stroke="#444" stroke-width="1" stroke-linecap="butt"/>
<line x1="99.4" y1="418.3" x2="99.4" y2="437.8" stroke="#222" stroke-width="1.3" stroke-linecap="butt"/>
<line x1="94.6" y1="418.3" x2="104.2" y2="418.3" stroke="#222" stroke-width="1.3" stroke-linecap="butt"/>
<line x1="94.6" y1="437.8" x2="104.2" y2="437.8" stroke="#222" stroke-width="1.3" stroke-linecap="butt"/>
<line x1="99.4" y1="462.3" x2="99.4" y2="464.7" stroke="#444" stroke-width="1" stroke-linecap="butt"/>
<line x1="122.6" y1="368" x2="122.6" y2="392.2" stroke="#222" stroke-width="1.3" stroke-linecap="butt"/>
<line x1="117.8" y1="368" x2="127.4" y2="368" stroke="#222" stroke-width="1.3" stroke-linecap="butt"/>
<line x1="117.8" y1="392.2" x2="127.4" y2="392.2" stroke="#222" stroke-width="1.3" stroke-linecap="butt"/>
<line x1="122.6" y1="462.3" x2="122.6" y2="464.7" stroke="#444" stroke-width="1" stroke-linecap="butt"/>
<line x1="52.45" y1="316.7" x2="52.45" y2="462.3" stroke="#111" stroke-width="1.3" stroke-linecap="butt"/>
<line x1="50.55" y1="462.3" x2="146.3" y2="462.3" stroke="#111" stroke-width="1.3" stroke-linecap="butt"/>
<line x1="50.55" y1="462" x2="52.45" y2="462" stroke="#111" stroke-width="1.1" stroke-linecap="butt"/>
<text x="44.4" y="467" font-size="14" text-anchor="end" font-weight="normal" fill="#000">0</text>
<line x1="50.55" y1="416.85" x2="52.45" y2="416.85" stroke="#111" stroke-width="1.1" stroke-linecap="butt"/>
<text x="44.4" y="421.85" font-size="14" text-anchor="end" font-weight="normal" fill="#000">1</text>
<line x1="50.55" y1="371.7" x2="52.45" y2="371.7" stroke="#111" stroke-width="1.1" stroke-linecap="butt"/>
<text x="44.4" y="376.7" font-size="14" text-anchor="end" font-weight="normal" fill="#000">2</text>
<line x1="50.55" y1="326.55" x2="52.45" y2="326.55" stroke="#111" stroke-width="1.1" stroke-linecap="butt"/>
<text x="44.4" y="331.55" font-size="14" text-anchor="end" font-weight="normal" fill="#000">3</text>
<text x="81" y="477.7" font-size="14" text-anchor="end" font-weight="normal" fill="#000" transform="rotate(-45 81 477.7)">Ctrl</text>
<text x="106.6" y="474.1" font-size="14" text-anchor="end" font-weight="normal" fill="#000" transform="rotate(-45 106.6 474.1)">CMS-R</text>
<text x="129.8" y="474.4" font-size="14" text-anchor="end" font-weight="normal" fill="#000" transform="rotate(-45 129.8 474.4)">CMS-V</text>
<line x1="98.8" y1="324.3" x2="123" y2="324.3" stroke="#111" stroke-width="1.2" stroke-linecap="butt"/>
<polygon points="109.80,316.10 110.59,318.31 112.94,318.38 111.08,319.82 111.74,322.07 109.80,320.75 107.86,322.07 108.52,319.82 106.66,318.38 109.01,318.31" fill="#111"/>
<text transform="translate(30.3,465.5) rotate(-90)" font-size="15.5" letter-spacing="0.1">AMPA / NMDA [a.u.]</text>
<rect x="248.4" y="413.3" width="16" height="49" fill="#ffffff" stroke="#1a1a1a" stroke-width="1.3"/>
<rect x="271.6" y="399.3" width="16" height="63" fill="#98f40a" stroke="#1a1a1a" stroke-width="1.3"/>
<rect x="295.4" y="401.3" width="16" height="61" fill="#06f6e0" stroke="#1a1a1a" stroke-width="1.3"/>
<circle cx="256.3" cy="389.2" r="1.5" fill="none" stroke="#333" stroke-width="1.0"/>
<circle cx="253.8" cy="404.3" r="1.5" fill="none" stroke="#333" stroke-width="1.0"/>
<circle cx="256.3" cy="404.3" r="1.5" fill="none" stroke="#333" stroke-width="1.0"/>
<circle cx="254.3" cy="412.5" r="1.5" fill="none" stroke="#333" stroke-width="1.0"/>
<circle cx="255.8" cy="431.3" r="1.5" fill="none" stroke="#333" stroke-width="1.0"/>
<circle cx="259.3" cy="440" r="1.5" fill="none" stroke="#333" stroke-width="1.0"/>
<path d="M276.9,319.38 L280.7,319.38 L278.8,322.61 Z" fill="none" stroke="#333340" stroke-width="1.0" stroke-linejoin="round"/>
<path d="M277.1,383.88 L280.9,383.88 L279,387.11 Z" fill="none" stroke="#333340" stroke-width="1.0" stroke-linejoin="round"/>
<path d="M276.9,384.07 L280.7,384.07 L278.8,387.31 Z" fill="none" stroke="#333340" stroke-width="1.0" stroke-linejoin="round"/>
<path d="M277.6,403.07 L281.4,403.07 L279.5,406.31 Z" fill="none" stroke="#333340" stroke-width="1.0" stroke-linejoin="round"/>
<path d="M278.1,429.88 L281.9,429.88 L280,433.11 Z" fill="none" stroke="#333340" stroke-width="1.0" stroke-linejoin="round"/>
<path d="M278.1,455.57 L281.9,455.57 L280,458.81 Z" fill="none" stroke="#333340" stroke-width="1.0" stroke-linejoin="round"/>
<rect x="300.5" y="358" width="2.6" height="2.6" fill="none" stroke="#505050" stroke-width="0.95"/>
<rect x="306.2" y="390.7" width="2.6" height="2.6" fill="none" stroke="#505050" stroke-width="0.95"/>
<rect x="300.5" y="410.5" width="2.6" height="2.6" fill="none" stroke="#505050" stroke-width="0.95"/>
<rect x="304.2" y="417" width="2.6" height="2.6" fill="none" stroke="#505050" stroke-width="0.95"/>
<rect x="301.2" y="436.7" width="2.6" height="2.6" fill="none" stroke="#505050" stroke-width="0.95"/>
<line x1="256.4" y1="405.8" x2="256.4" y2="421.3" stroke="#222" stroke-width="1.3" stroke-linecap="butt"/>
<line x1="251.6" y1="405.8" x2="261.2" y2="405.8" stroke="#222" stroke-width="1.3" stroke-linecap="butt"/>
<line x1="251.6" y1="421.3" x2="261.2" y2="421.3" stroke="#222" stroke-width="1.3" stroke-linecap="butt"/>
<line x1="256.4" y1="462.3" x2="256.4" y2="464.7" stroke="#444" stroke-width="1" stroke-linecap="butt"/>
<line x1="279.6" y1="376.3" x2="279.6" y2="422.5" stroke="#222" stroke-width="1.3" stroke-linecap="butt"/>
<line x1="274.8" y1="376.3" x2="284.4" y2="376.3" stroke="#222" stroke-width="1.3" stroke-linecap="butt"/>
<line x1="274.8" y1="422.5" x2="284.4" y2="422.5" stroke="#222" stroke-width="1.3" stroke-linecap="butt"/>
<line x1="279.6" y1="462.3" x2="279.6" y2="464.7" stroke="#444" stroke-width="1" stroke-linecap="butt"/>
<line x1="303.4" y1="390.5" x2="303.4" y2="412.5" stroke="#222" stroke-width="1.3" stroke-linecap="butt"/>
<line x1="298.6" y1="390.5" x2="308.2" y2="390.5" stroke="#222" stroke-width="1.3" stroke-linecap="butt"/>
<line x1="298.6" y1="412.5" x2="308.2" y2="412.5" stroke="#222" stroke-width="1.3" stroke-linecap="butt"/>
<line x1="303.4" y1="462.3" x2="303.4" y2="464.7" stroke="#444" stroke-width="1" stroke-linecap="butt"/>
<line x1="232.9" y1="316.6" x2="232.9" y2="462.3" stroke="#7a7a7a" stroke-width="1.3" stroke-linecap="butt"/>
<line x1="231" y1="462.3" x2="327.4" y2="462.3" stroke="#111" stroke-width="1.3" stroke-linecap="butt"/>
<line x1="231" y1="462.3" x2="232.9" y2="462.3" stroke="#7a7a7a" stroke-width="1.1" stroke-linecap="butt"/>
<text x="224.8" y="467.3" font-size="14" text-anchor="end" font-weight="normal" fill="#000">0</text>
<line x1="231" y1="433.35" x2="232.9" y2="433.35" stroke="#7a7a7a" stroke-width="1.1" stroke-linecap="butt"/>
<text x="224.8" y="438.35" font-size="14" text-anchor="end" font-weight="normal" fill="#000">1</text>
<line x1="231" y1="404.4" x2="232.9" y2="404.4" stroke="#7a7a7a" stroke-width="1.1" stroke-linecap="butt"/>
<text x="224.8" y="409.4" font-size="14" text-anchor="end" font-weight="normal" fill="#000">2</text>
<line x1="231" y1="375.45" x2="232.9" y2="375.45" stroke="#7a7a7a" stroke-width="1.1" stroke-linecap="butt"/>
<text x="224.8" y="380.45" font-size="14" text-anchor="end" font-weight="normal" fill="#000">3</text>
<line x1="231" y1="346.5" x2="232.9" y2="346.5" stroke="#7a7a7a" stroke-width="1.1" stroke-linecap="butt"/>
<text x="224.8" y="351.5" font-size="14" text-anchor="end" font-weight="normal" fill="#000">4</text>
<line x1="231" y1="317.55" x2="232.9" y2="317.55" stroke="#7a7a7a" stroke-width="1.1" stroke-linecap="butt"/>
<text x="224.8" y="322.55" font-size="14" text-anchor="end" font-weight="normal" fill="#000">5</text>
<text x="262.1" y="477.7" font-size="14" text-anchor="end" font-weight="normal" fill="#000" transform="rotate(-45 262.1 477.7)">Ctrl</text>
<text x="287.6" y="474" font-size="14" text-anchor="end" font-weight="normal" fill="#000" transform="rotate(-45 287.6 474)">CMS-R</text>
<text x="311.4" y="474.6" font-size="14" text-anchor="end" font-weight="normal" fill="#000" transform="rotate(-45 311.4 474.6)">CMS-V</text>
<text transform="translate(210.4,421) rotate(-90)" font-size="15.5" letter-spacing="0.1">RI [a.u.]</text>
<rect x="435.8" y="422.5" width="16" height="40" fill="#ffffff" stroke="#1a1a1a" stroke-width="1.3"/>
<rect x="458.9" y="438.8" width="16" height="23.7" fill="#98f40a" stroke="#1a1a1a" stroke-width="1.3"/>
<rect x="482.9" y="400.5" width="16" height="62" fill="#06f6e0" stroke="#1a1a1a" stroke-width="1.3"/>
<circle cx="445" cy="366.5" r="1.5" fill="none" stroke="#333" stroke-width="1.0"/>
<circle cx="441.8" cy="403.8" r="1.5" fill="none" stroke="#333" stroke-width="1.0"/>
<circle cx="439.3" cy="427" r="1.5" fill="none" stroke="#333" stroke-width="1.0"/>
<circle cx="444.3" cy="427" r="1.5" fill="none" stroke="#333" stroke-width="1.0"/>
<circle cx="444.3" cy="454.5" r="1.5" fill="none" stroke="#333" stroke-width="1.0"/>
<circle cx="446.8" cy="454.5" r="1.5" fill="none" stroke="#333" stroke-width="1.0"/>
<path d="M462.6,394.27 L466.4,394.27 L464.5,397.5 Z" fill="none" stroke="#333340" stroke-width="1.0" stroke-linejoin="round"/>
<path d="M464.9,429.88 L468.7,429.88 L466.8,433.11 Z" fill="none" stroke="#333340" stroke-width="1.0" stroke-linejoin="round"/>
<path d="M462.6,447.38 L466.4,447.38 L464.5,450.61 Z" fill="none" stroke="#333340" stroke-width="1.0" stroke-linejoin="round"/>
<path d="M467.4,454.88 L471.2,454.88 L469.3,458.11 Z" fill="none" stroke="#333340" stroke-width="1.0" stroke-linejoin="round"/>
<path d="M465.1,459.07 L468.9,459.07 L467,462.31 Z" fill="none" stroke="#333340" stroke-width="1.0" stroke-linejoin="round"/>
<rect x="490" y="355.5" width="2.6" height="2.6" fill="none" stroke="#505050" stroke-width="0.95"/>
<rect x="489.5" y="363.2" width="2.6" height="2.6" fill="none" stroke="#505050" stroke-width="0.95"/>
<rect x="490" y="407.5" width="2.6" height="2.6" fill="none" stroke="#505050" stroke-width="0.95"/>
<rect x="489.2" y="414.5" width="2.6" height="2.6" fill="none" stroke="#505050" stroke-width="0.95"/>
<rect x="489.2" y="440.7" width="2.6" height="2.6" fill="none" stroke="#505050" stroke-width="0.95"/>
<line x1="443.8" y1="409.3" x2="443.8" y2="436.3" stroke="#222" stroke-width="1.3" stroke-linecap="butt"/>
<line x1="439" y1="409.3" x2="448.6" y2="409.3" stroke="#222" stroke-width="1.3" stroke-linecap="butt"/>
<line x1="439" y1="436.3" x2="448.6" y2="436.3" stroke="#222" stroke-width="1.3" stroke-linecap="butt"/>
<line x1="443.8" y1="462.5" x2="443.8" y2="464.9" stroke="#444" stroke-width="1" stroke-linecap="butt"/>
<line x1="466.9" y1="427" x2="466.9" y2="450.5" stroke="#222" stroke-width="1.3" stroke-linecap="butt"/>
<line x1="462.1" y1="427" x2="471.7" y2="427" stroke="#222" stroke-width="1.3" stroke-linecap="butt"/>
<line x1="462.1" y1="450.5" x2="471.7" y2="450.5" stroke="#222" stroke-width="1.3" stroke-linecap="butt"/>
<line x1="466.9" y1="462.5" x2="466.9" y2="464.9" stroke="#444" stroke-width="1" stroke-linecap="butt"/>
<line x1="490.9" y1="387.5" x2="490.9" y2="414.3" stroke="#222" stroke-width="1.3" stroke-linecap="butt"/>
<line x1="486.1" y1="387.5" x2="495.7" y2="387.5" stroke="#222" stroke-width="1.3" stroke-linecap="butt"/>
<line x1="486.1" y1="414.3" x2="495.7" y2="414.3" stroke="#222" stroke-width="1.3" stroke-linecap="butt"/>
<line x1="490.9" y1="462.5" x2="490.9" y2="464.9" stroke="#444" stroke-width="1" stroke-linecap="butt"/>
<line x1="420.3" y1="317.1" x2="420.3" y2="462.5" stroke="#111" stroke-width="1.3" stroke-linecap="butt"/>
<line x1="418.4" y1="462.5" x2="510" y2="462.5" stroke="#111" stroke-width="1.3" stroke-linecap="butt"/>
<line x1="418.4" y1="462.5" x2="420.3" y2="462.5" stroke="#111" stroke-width="1.1" stroke-linecap="butt"/>
<text x="412.6" y="467.5" font-size="14" text-anchor="end" font-weight="normal" fill="#000">0</text>
<line x1="418.4" y1="414.2" x2="420.3" y2="414.2" stroke="#111" stroke-width="1.1" stroke-linecap="butt"/>
<text x="410" y="419.2" font-size="14" text-anchor="end" font-weight="normal" fill="#000">500</text>
<line x1="418.4" y1="365.9" x2="420.3" y2="365.9" stroke="#111" stroke-width="1.1" stroke-linecap="butt"/>
<text x="408.9" y="370.9" font-size="14" text-anchor="end" font-weight="normal" fill="#000">1000</text>
<line x1="418.4" y1="317.6" x2="420.3" y2="317.6" stroke="#111" stroke-width="1.1" stroke-linecap="butt"/>
<text x="408.9" y="322.6" font-size="14" text-anchor="end" font-weight="normal" fill="#000">1500</text>
<text x="450.1" y="477.9" font-size="14" text-anchor="end" font-weight="normal" fill="#000" transform="rotate(-45 450.1 477.9)">Ctrl</text>
<text x="475.4" y="474.2" font-size="14" text-anchor="end" font-weight="normal" fill="#000" transform="rotate(-45 475.4 474.2)">CMS-R</text>
<text x="498.7" y="474.5" font-size="14" text-anchor="end" font-weight="normal" fill="#000" transform="rotate(-45 498.7 474.5)">CMS-V</text>
<text transform="translate(371.1,491) rotate(-90)" font-size="15">eEPSC</text>
<text transform="translate(375.9,443.2) rotate(-90)" font-size="12">-70mV</text>
<text transform="translate(371.1,400.2) rotate(-90)" font-size="14.7">amplitude [pA]</text>
<rect x="589.2" y="443.3" width="16" height="19.2" fill="#ffffff" stroke="#1a1a1a" stroke-width="1.3"/>
<rect x="612.6" y="423.9" width="16" height="38.6" fill="#98f40a" stroke="#1a1a1a" stroke-width="1.3"/>
<rect x="636" y="446.3" width="16" height="16.2" fill="#06f6e0" stroke="#1a1a1a" stroke-width="1.3"/>
<circle cx="599.7" cy="427.6" r="1.5" fill="none" stroke="#333" stroke-width="1.0"/>
<circle cx="594.5" cy="437" r="1.5" fill="none" stroke="#333" stroke-width="1.0"/>
<circle cx="595.8" cy="446" r="1.5" fill="none" stroke="#333" stroke-width="1.0"/>
<circle cx="594.5" cy="448.4" r="1.5" fill="none" stroke="#333" stroke-width="1.0"/>
<circle cx="594.5" cy="451.9" r="1.5" fill="none" stroke="#333" stroke-width="1.0"/>
<path d="M620,323.88 L623.8,323.88 L621.9,327.11 Z" fill="none" stroke="#333340" stroke-width="1.0" stroke-linejoin="round"/>
<path d="M616.8,435.88 L620.6,435.88 L618.7,439.11 Z" fill="none" stroke="#333340" stroke-width="1.0" stroke-linejoin="round"/>
<path d="M617.6,447.77 L621.4,447.77 L619.5,451 Z" fill="none" stroke="#333340" stroke-width="1.0" stroke-linejoin="round"/>
<path d="M621.5,451.38 L625.3,451.38 L623.4,454.61 Z" fill="none" stroke="#333340" stroke-width="1.0" stroke-linejoin="round"/>
<path d="M616,456.47 L619.8,456.47 L617.9,459.7 Z" fill="none" stroke="#333340" stroke-width="1.0" stroke-linejoin="round"/>
<rect x="644.2" y="429.4" width="2.6" height="2.6" fill="none" stroke="#505050" stroke-width="0.95"/>
<rect x="641.8" y="447.1" width="2.6" height="2.6" fill="none" stroke="#505050" stroke-width="0.95"/>
<rect x="645" y="450.7" width="2.6" height="2.6" fill="none" stroke="#505050" stroke-width="0.95"/>
<rect x="645" y="453.4" width="2.6" height="2.6" fill="none" stroke="#505050" stroke-width="0.95"/>
<line x1="597.2" y1="439.4" x2="597.2" y2="447.1" stroke="#222" stroke-width="1.3" stroke-linecap="butt"/>
<line x1="592.4" y1="439.4" x2="602" y2="439.4" stroke="#222" stroke-width="1.3" stroke-linecap="butt"/>
<line x1="592.4" y1="447.1" x2="602" y2="447.1" stroke="#222" stroke-width="1.3" stroke-linecap="butt"/>
<line x1="597.2" y1="462.5" x2="597.2" y2="464.9" stroke="#444" stroke-width="1" stroke-linecap="butt"/>
<line x1="620.6" y1="399.2" x2="620.6" y2="449.2" stroke="#222" stroke-width="1.3" stroke-linecap="butt"/>
<line x1="615.8" y1="399.2" x2="625.4" y2="399.2" stroke="#222" stroke-width="1.3" stroke-linecap="butt"/>
<line x1="615.8" y1="449.2" x2="625.4" y2="449.2" stroke="#222" stroke-width="1.3" stroke-linecap="butt"/>
<line x1="620.6" y1="462.5" x2="620.6" y2="464.9" stroke="#444" stroke-width="1" stroke-linecap="butt"/>
<line x1="644" y1="442.9" x2="644" y2="450.3" stroke="#222" stroke-width="1.3" stroke-linecap="butt"/>
<line x1="639.2" y1="442.9" x2="648.8" y2="442.9" stroke="#222" stroke-width="1.3" stroke-linecap="butt"/>
<line x1="639.2" y1="450.3" x2="648.8" y2="450.3" stroke="#222" stroke-width="1.3" stroke-linecap="butt"/>
<line x1="644" y1="462.5" x2="644" y2="464.9" stroke="#444" stroke-width="1" stroke-linecap="butt"/>
<line x1="573.75" y1="317.1" x2="573.75" y2="462.5" stroke="#444" stroke-width="1.3" stroke-linecap="butt"/>
<line x1="571.85" y1="462.5" x2="664.5" y2="462.5" stroke="#222" stroke-width="1.3" stroke-linecap="butt"/>
<line x1="571.85" y1="462.5" x2="573.75" y2="462.5" stroke="#444" stroke-width="1.1" stroke-linecap="butt"/>
<text x="565.3" y="467.5" font-size="14" text-anchor="end" font-weight="normal" fill="#000">0</text>
<line x1="571.85" y1="414.2" x2="573.75" y2="414.2" stroke="#444" stroke-width="1.1" stroke-linecap="butt"/>
<text x="565.3" y="419.2" font-size="14" text-anchor="end" font-weight="normal" fill="#000">1</text>
<line x1="571.85" y1="365.9" x2="573.75" y2="365.9" stroke="#444" stroke-width="1.1" stroke-linecap="butt"/>
<text x="565.3" y="370.9" font-size="14" text-anchor="end" font-weight="normal" fill="#000">2</text>
<line x1="571.85" y1="317.6" x2="573.75" y2="317.6" stroke="#444" stroke-width="1.1" stroke-linecap="butt"/>
<text x="565.3" y="322.6" font-size="14" text-anchor="end" font-weight="normal" fill="#000">3</text>
<text x="602.2" y="477.2" font-size="14" text-anchor="end" font-weight="normal" fill="#000" transform="rotate(-45 602.2 477.2)">Ctrl</text>
<text x="628.1" y="474.2" font-size="14" text-anchor="end" font-weight="normal" fill="#000" transform="rotate(-45 628.1 474.2)">CMS-R</text>
<text x="651.2" y="474.8" font-size="14" text-anchor="end" font-weight="normal" fill="#000" transform="rotate(-45 651.2 474.8)">CMS-V</text>
<text transform="translate(549.8,493.3) rotate(-90)" font-size="15">AMPA</text>
<text transform="translate(555.2,453.6) rotate(-90)" font-size="12">+40mV</text>
<text transform="translate(552.4,407.2) rotate(-90)" font-size="14.4">amplitude [a.u.]</text>
</svg>
</body></html>
